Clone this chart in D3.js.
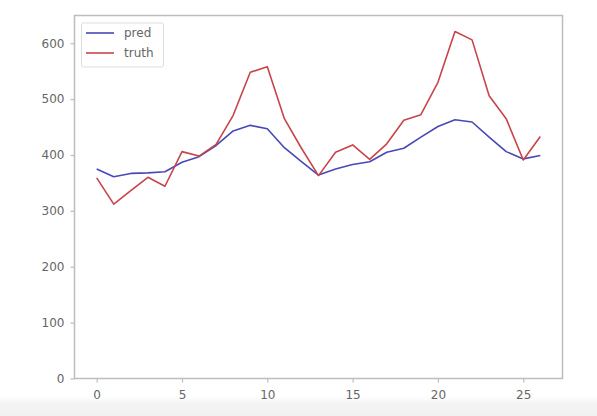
<!DOCTYPE html>
<html>
<head>
<meta charset="utf-8">
<script src="https://cdn.jsdelivr.net/npm/d3@7/dist/d3.min.js"></script>
<style>
  html, body { margin: 0; padding: 0; background: #ffffff; }
  svg { display: block; }
  text { font-family: "DejaVu Sans", sans-serif; }
</style>
</head>
<body>
<script>
const steps = d3.range(0, 27);
const pred = [375, 361, 367, 368, 370, 387, 397, 417, 443, 453, 447, 413, 388, 364, 375, 383, 388, 405, 412, 432, 451, 463, 459, 432, 406, 393, 399];
const truth = [359, 312, 336, 360, 344, 406, 398, 419, 471, 548, 558, 465, 412, 363, 405, 418, 392, 420, 462, 472, 530, 621, 606, 506, 465, 391, 433];
const seriesNames = ["pred", "truth"];
const xTicks = [0, 5, 10, 15, 20, 25];
const yTicks = [0, 100, 200, 300, 400, 500, 600];

const W = 597, H = 416;
const plot = { left: 74.5, top: 15.5, right: 562.5, bottom: 378.5 };
const colors = { pred: "#4848b8", truth: "#c8444a" };
const tickColor = "#666666";
const frameColor = "#bdbdbd";

const svg = d3.select("body").append("svg").attr("width", W).attr("height", H);

// faint grey band at the bottom of the photo
const defs = svg.append("defs");
const grad = defs.append("linearGradient").attr("id", "band").attr("x1", 0).attr("y1", 0).attr("x2", 0).attr("y2", 1);
grad.append("stop").attr("offset", "0%").attr("stop-color", "#ffffff");
grad.append("stop").attr("offset", "40%").attr("stop-color", "#f3f3f3");
grad.append("stop").attr("offset", "100%").attr("stop-color", "#f1f1f1");
svg.append("rect").attr("x", 0).attr("y", 396).attr("width", W).attr("height", H - 396).attr("fill", "url(#band)");

const x = d3.scaleLinear().domain([-1.3, 27.3]).range([plot.left, plot.right]);
const y = d3.scaleLinear().domain([0, 649.6]).range([plot.bottom, plot.top]);

// frame
svg.append("rect")
  .attr("x", plot.left).attr("y", plot.top)
  .attr("width", plot.right - plot.left).attr("height", plot.bottom - plot.top)
  .attr("fill", "#ffffff").attr("stroke", frameColor).attr("stroke-width", 1.5);

// axes
const xAxis = d3.axisBottom(x).tickValues(xTicks).tickSize(4).tickPadding(8).tickFormat(d3.format("d"));
const yAxis = d3.axisLeft(y).tickValues(yTicks).tickSize(4).tickPadding(6).tickFormat(d3.format("d"));

const gx = svg.append("g").attr("transform", `translate(0,${plot.bottom})`).call(xAxis);
const gy = svg.append("g").attr("transform", `translate(${plot.left},0)`).call(yAxis);
[gx, gy].forEach(g => {
  g.select(".domain").remove();
  g.selectAll(".tick line").attr("stroke", frameColor).attr("stroke-width", 1.2);
  g.selectAll(".tick text").attr("fill", tickColor).attr("font-size", 12).attr("font-family", "DejaVu Sans, sans-serif");
});

// lines
const line = d3.line().x((d, i) => x(steps[i])).y(d => y(d));
const data = { pred, truth };
seriesNames.forEach(name => {
  svg.append("path")
    .datum(data[name])
    .attr("d", line)
    .attr("fill", "none")
    .attr("stroke", colors[name])
    .attr("stroke-width", 1.6)
    .attr("stroke-linejoin", "round");
});

// legend
const lg = svg.append("g").attr("transform", "translate(81,22.5)");
lg.append("rect").attr("x", 0.5).attr("y", 0.5).attr("width", 82).attr("height", 44)
  .attr("rx", 2).attr("fill", "#ffffff").attr("stroke", "#dddddd").attr("stroke-width", 1);
seriesNames.forEach((name, i) => {
  const yy = 10.5 + i * 20;
  lg.append("line").attr("x1", 5).attr("x2", 33).attr("y1", yy).attr("y2", yy)
    .attr("stroke", colors[name]).attr("stroke-width", 1.6);
  lg.append("text").attr("x", 43).attr("y", yy).attr("dy", "0.35em")
    .attr("font-size", 12).attr("fill", tickColor).text(name);
});
</script>
</body>
</html>
